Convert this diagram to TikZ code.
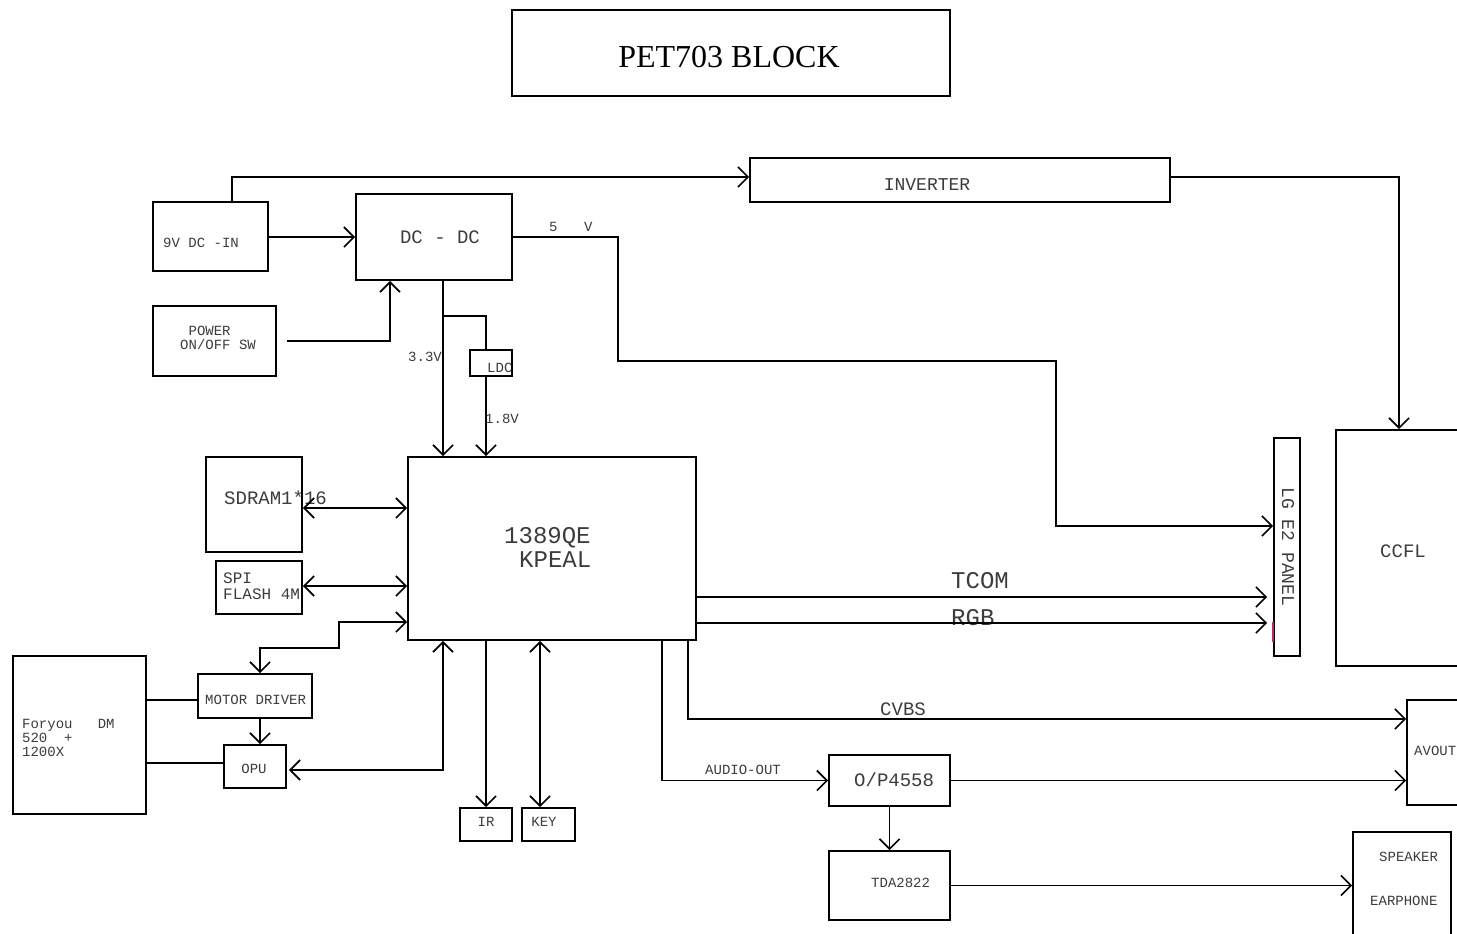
\documentclass[tikz,border=0pt]{standalone}
\usepackage{fontspec}
\setmainfont{Liberation Serif}
\newfontfamily\monofam{Liberation Mono}
\usetikzlibrary{arrows.meta}
\definecolor{txt}{RGB}{60,60,60}
\definecolor{mag}{RGB}{190,40,110}
\begin{document}
\begin{tikzpicture}[x=1pt,y=-1pt,
  box/.style={draw, line width=1.7pt, inner sep=0pt, rectangle},
  lb/.style={inner sep=0pt, text=txt, font=\monofam\fontsize{#1}{#1}\selectfont},
  lb/.default=14,
  wire/.style={line width=1.7pt},
  arr/.style={line width=1.7pt, -{Straight Barb[length=10pt,width=20pt]}},
  darr/.style={line width=1.7pt, {Straight Barb[length=10pt,width=20pt]}-{Straight Barb[length=10pt,width=20pt]}}]
\useasboundingbox (0,0) rectangle (1457,934);
\fill[white] (0,0) rectangle (1457,934);
% helper coordinates
\coordinate (X232) at (232,0);
\coordinate (X390) at (390,0);
\coordinate (X443) at (443,0);
\coordinate (X486) at (486,0);
\coordinate (X540) at (540,0);
\coordinate (X260) at (260,0);
\coordinate (X662) at (662,0);
\coordinate (X688) at (688,0);
\coordinate (X1399) at (1399,0);
\coordinate (Y177) at (0,177);
\coordinate (Y508) at (0,508);
\coordinate (Y586) at (0,586);
\coordinate (Y597) at (0,597);
\coordinate (Y622) at (0,622);
\coordinate (Y623) at (0,623);
\coordinate (Y642) at (0,642);
\coordinate (Y700) at (0,700);
\coordinate (Y718) at (0,719);
\coordinate (Y763) at (0,763);
\coordinate (Y770) at (0,770);
\coordinate (br) at (443,316);
\coordinate (p1) at (618,361);
\coordinate (p2) at (1056,526);
\coordinate (p3) at (339,648);
% boxes
\node[box, minimum width=438pt, minimum height=86pt] (title) at (731,53) {};
\node[box, minimum width=420pt, minimum height=44pt] (inv) at (960,180) {};
\node[box, minimum width=115pt, minimum height=69pt] (dcin) at (210.5,236.5) {};
\node[box, minimum width=156pt, minimum height=86pt] (dcdc) at (434,237) {};
\node[box, minimum width=123pt, minimum height=70pt] (pwr) at (214.5,341) {};
\node[box, minimum width=42pt, minimum height=26pt] (ldo) at (491,363) {};
\node[box, minimum width=288pt, minimum height=183pt] (main) at (552,548.5) {};
\node[box, minimum width=96pt, minimum height=95pt] (sdram) at (254,504.5) {};
\node[box, minimum width=86pt, minimum height=53pt] (spi) at (259,587.5) {};
\node[box, minimum width=133pt, minimum height=158pt] (foryou) at (79.5,735) {};
\node[box, minimum width=114pt, minimum height=44pt] (motor) at (255,696) {};
\node[box, minimum width=62pt, minimum height=43pt] (opu) at (255,766.5) {};
\node[box, minimum width=52pt, minimum height=33pt] (ir) at (486,824.5) {};
\node[box, minimum width=53pt, minimum height=33pt] (key) at (548.5,824.5) {};
\node[box, minimum width=121pt, minimum height=51pt] (op) at (889.5,780.5) {};
\node[box, minimum width=121pt, minimum height=69pt] (tda) at (889.5,885.5) {};
\node[box, minimum width=26pt, minimum height=218pt] (panel) at (1287,547) {};
\node[box, minimum width=134pt, minimum height=236pt] (ccfl) at (1403,548) {};
\node[box, minimum width=63pt, minimum height=105pt] (avout) at (1438.5,752.5) {};
\node[box, minimum width=98pt, minimum height=118pt] (spk) at (1402,891) {};
% texts
\node[inner sep=0pt, font=\fontsize{32}{32}\selectfont] (ttitle) at (729,57) {PET703 BLOCK};
\node[lb=18, anchor=center] (tinv) at (927,185) {INVERTER};
\node[lb, anchor=west] (tdcin) at (163,243) {9V DC -IN};
\node[lb=19, anchor=center] (tdcdc) at (440,237) {DC - DC};
\node[lb, anchor=west, align=left] (tpwr) at (180,338) {\ POWER\\ON/OFF SW};
\node[lb, anchor=west] (t33) at (408,357) {3.3V};
\node[lb, anchor=west] (tldo) at (487,368) {LDC};
\node[lb, anchor=west] (t18) at (485,419) {1.8V};
\node[lb, anchor=west] (t5) at (549,227) {5};
\node[lb, anchor=west] (tv) at (584,227) {V};
\node[lb=19, anchor=center] (tccfl) at (1403,551) {CCFL};
\node[lb=18, anchor=center, rotate=-90] (tpanel) at (1288,547) {LG E2 PANEL};
\node[lb=24, anchor=west] (tm1) at (504,538) {1389QE};
\node[lb=24, anchor=west] (tm2) at (519,560) {KPEAL};
\node[lb=24, anchor=west] (ttcom) at (951,581) {TCOM};
\node[lb=24, anchor=west] (trgb) at (951,618) {RGB};
\node[lb=19, anchor=west] (tsdram) at (224,498) {SDRAM1*16};
\node[lb=16, anchor=west, align=left] (tspi) at (223,586) {SPI\\FLASH 4M};
\node[lb, anchor=west] (tmotor) at (205,700) {MOTOR DRIVER};
\node[lb, anchor=center] (topu) at (254,769) {OPU};
\node[lb, anchor=north west, align=left] (tfy) at (22,719) {Foryou\ \ \ DM\\520\ \ +\\1200X};
\node[lb, anchor=center] (tir) at (486,822) {IR};
\node[lb, anchor=center] (tkey) at (544,822) {KEY};
\node[lb, anchor=west] (taudio) at (705,770) {AUDIO-OUT};
\node[lb=19, anchor=west] (tcvbs) at (880,709) {CVBS};
\node[lb=19, anchor=west] (top) at (854,780) {O/P4558};
\node[lb, anchor=west] (ttda) at (871,883) {TDA2822};
\node[lb, anchor=west] (tav) at (1414,751) {AVOUT};
\node[lb, anchor=west] (tspk) at (1379,857) {SPEAKER};
\node[lb, anchor=west] (tear) at (1370,901) {EARPHONE};
% connectors
\draw[arr] (dcin.north -| X232) |- (inv.west |- Y177);
\draw[arr] (dcin.east |- dcdc.west) -- (dcdc.west);
\draw[arr] ([xshift=10pt]pwr.east) -| (dcdc.south -| X390);
\draw[arr] (dcdc.south -| X443) -- (main.north -| X443);
\draw[wire] (br) -| (ldo.north -| X486);
\draw[arr] (ldo.south -| X486) -- (main.north -| X486);
\draw[arr] (dcdc.east) -| (p1) -| (p2) -- (p2 -| panel.west);
\draw[arr] (inv.east |- Y177) -| (X1399 |- ccfl.north);
\draw[darr] (sdram.east |- Y508) -- (main.west |- Y508);
\draw[darr] (spi.east |- Y586) -- (main.west |- Y586);
\draw[darr] (main.west |- Y622) -| (p3) -| (motor.north -| X260);
\draw[arr] (motor.south -| X260) -- (opu.north -| X260);
\draw[darr] ([xshift=2pt]opu.east |- Y770) -| (main.south -| X443);
\draw[wire] (foryou.east |- Y700) -- (motor.west |- Y700);
\draw[wire] (foryou.east |- Y763) -- (opu.west |- Y763);
\draw[arr] (main.south -| ir.north) -- (ir.north);
\draw[darr] (main.south -| X540) -- (key.north -| X540);
\draw[arr] (main.south -| X662) |- (op.west);
\draw[arr] (main.south -| X688) |- (avout.west |- Y718);
\draw[arr] (op.east) -- (op.east -| avout.west);
\draw[arr] (op.south) -- (tda.north);
\draw[arr] (tda.east) -- (tda.east -| spk.west);
\draw[arr, shorten >=6pt] (main.east |- Y597) -- (panel.west |- Y597);
\draw[arr, shorten >=6pt] (main.east |- Y623) -- (panel.west |- Y623);
\draw[mag, line width=1.7pt] (panel.west |- Y622) -- (panel.west |- Y642);
\end{tikzpicture}
\end{document}
